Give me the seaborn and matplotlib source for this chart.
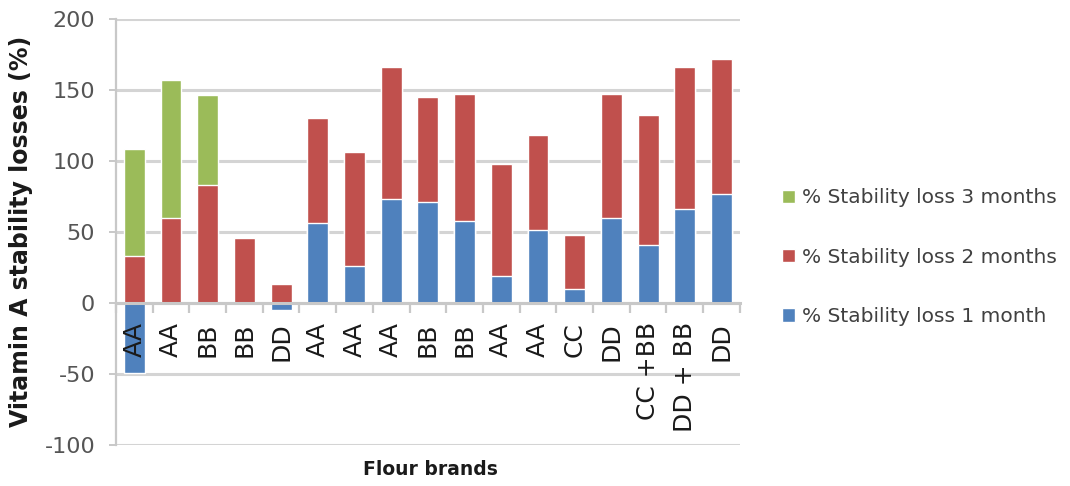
import numpy as np
import pandas as pd
import matplotlib
matplotlib.use("Agg")
import matplotlib.pyplot as plt
from matplotlib.patches import Patch
import seaborn as sns

# Flour brand samples and vitamin A stability losses (%) per storage period
brands = ["AA", "AA", "BB", "BB", "DD", "AA", "AA", "AA", "BB", "BB",
          "AA", "AA", "CC", "DD", "CC +BB", "DD + BB", "DD"]
loss_1m = [-49, 0, 0, 0, -5, 56, 26, 73, 71, 58, 19, 51, 10, 60, 41, 66, 77]
loss_2m = [33, 60, 83, 46, 13, 74, 80, 93, 74, 89, 79, 67, 38, 87, 91, 100, 95]
loss_3m = [75, 97, 63, 0, 0, 0, 0, 0, 0, 0, 0, 0, 0, 0, 0, 0, 0]

series_names = ["% Stability loss 1 month", "% Stability loss 2 months",
                "% Stability loss 3 months"]
colors = ["#4F81BD", "#C0504D", "#9BBB59"]

sns.set_theme(style="white")
plt.rcParams["font.family"] = ["DejaVu Sans"]
plt.rcParams["axes.unicode_minus"] = False

# Positive segments stack upward from zero, negative ones hang below it
m1 = np.array(loss_1m, dtype=float)
pos_base = np.clip(m1, 0, None)
top_2m = pos_base + np.array(loss_2m, dtype=float)
top_3m = top_2m + np.array(loss_3m, dtype=float)

df = pd.DataFrame({
    "idx": np.arange(len(brands)),
    "m1": m1,
    "m2": top_2m,
    "m3": top_3m,
})

fig = plt.figure(figsize=(10.7, 4.86), dpi=100)
ax = fig.add_axes([0.1084, 0.0844, 0.583, 0.877])

bw = 0.57
for col, color in zip(["m3", "m2", "m1"], [colors[2], colors[1], colors[0]]):
    sns.barplot(data=df, x="idx", y=col, color=color, width=bw,
                saturation=1, ax=ax, errorbar=None, zorder=1.5)

ax.set_xlim(-0.5, len(brands) - 0.5)
ax.set_ylim(-100, 200)
yticks = np.arange(-100, 201, 50)
ax.set_yticks(yticks)
# horizontal gridlines sit behind the bars; tick labels stay on top
ax.grid(False)
for yv in yticks:
    ax.axhline(yv, color="#D4D4D4", linewidth=2.2, zorder=0.5)
ax.set_axisbelow(False)

for s in ["top", "right"]:
    ax.spines[s].set_visible(False)
ax.spines["bottom"].set_position(("data", 0))
ax.spines["bottom"].set_color("#C8C8C8")
ax.spines["bottom"].set_linewidth(2.2)
ax.spines["left"].set_color("#C8C8C8")
ax.spines["left"].set_linewidth(1.6)

ax.set_xticks(np.arange(len(brands)))
ax.set_xticklabels(brands, rotation=90, fontsize=18, color="#1A1A1A")
ax.set_xticks(np.arange(-0.5, len(brands), 1.0), minor=True)
ax.tick_params(axis="x", which="major", length=0, pad=14)
ax.tick_params(axis="x", which="minor", length=7, width=1.6, color="#C8C8C8",
               direction="out", bottom=True)
ax.tick_params(axis="y", which="major", length=5, width=1.4, color="#C8C8C8",
               left=True, labelsize=16, labelcolor="#555555", pad=10)

ax.set_xlabel("")
ax.set_ylabel("")
fig.text(0.020, 0.523, "Vitamin A stability losses (%)", rotation=90,
         ha="center", va="center", fontsize=17, fontweight="bold",
         color="#1A1A1A")
fig.text(0.402, 0.033, "Flour brands", ha="center", va="center",
         fontsize=13.5, fontweight="bold", color="#1A1A1A")

handles = [Patch(facecolor=colors[2], label=series_names[2]),
           Patch(facecolor=colors[1], label=series_names[1]),
           Patch(facecolor=colors[0], label=series_names[0])]
fig.legend(handles=handles, loc="center left",
           bbox_to_anchor=(0.731, 0.471), frameon=False, fontsize=14.5,
           handlelength=0.65, handleheight=0.65, handletextpad=0.35,
           labelspacing=2.0, borderpad=0, borderaxespad=0,
           labelcolor="#404040")

fig.savefig("out.png", dpi=100)
